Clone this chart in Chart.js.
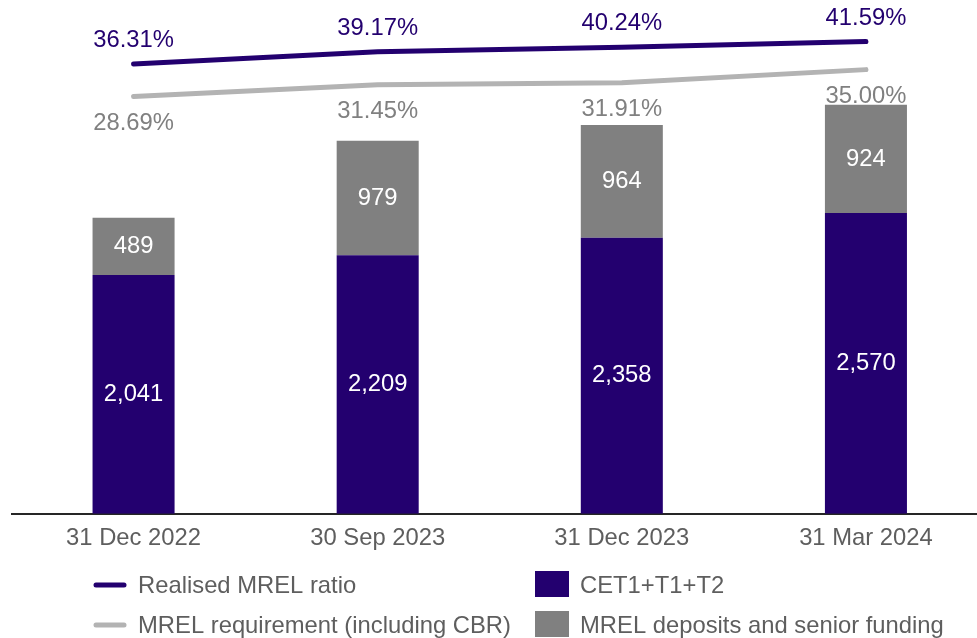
<!DOCTYPE html>
<html>
<head>
<meta charset="utf-8">
<script src="https://cdn.jsdelivr.net/npm/chart.js@4/dist/chart.umd.min.js"></script>
<style>
  html, body { margin: 0; padding: 0; background: #fff; overflow: hidden; }
  #wrap { width: 977px; height: 638px; overflow: hidden; }
</style>
</head>
<body>
<div id="wrap"><canvas id="mrelChart" width="988" height="638"></canvas></div>
<script>
const periods = ['31 Dec 2022', '30 Sep 2023', '31 Dec 2023', '31 Mar 2024'];
const cet1T1T2 = [2041, 2209, 2358, 2570];
const mrelDeposits = [489, 979, 964, 924];
const realisedRatio = [36.31, 39.17, 40.24, 41.59];
const requirementRatio = [28.69, 31.45, 31.91, 35.00];

const PURPLE = '#23006f';
const GREY_BAR = '#808080';
const GREY_LINE = '#b3b3b3';
const TEXT_GREY = '#5e5e5e';
const FONT = 'Liberation Sans, Arial, sans-serif';
const FONT_SIZE = 23.8;

// value labels inside bars and next to line points
const valueLabels = {
    id: 'valueLabels',
    afterDatasetsDraw(chart) {
        const ctx = chart.ctx;
        ctx.save();
        ctx.font = `${FONT_SIZE}px ${FONT}`;
        ctx.textAlign = 'center';
        ctx.textBaseline = 'middle';
        chart.data.datasets.forEach((ds, i) => {
            const meta = chart.getDatasetMeta(i);
            meta.data.forEach((el, j) => {
                const v = ds.data[j];
                if (ds.type === 'bar') {
                    ctx.fillStyle = '#ffffff';
                    ctx.fillText(v.toLocaleString('en-US'), el.x, (el.y + el.base) / 2);
                } else {
                    ctx.fillStyle = ds.labelColor;
                    ctx.fillText(v.toFixed(2) + '%', el.x, el.y + ds.labelOffset);
                }
            });
        });
        ctx.restore();
    }
};

// two column legend drawn on the canvas
const gridLegend = {
    id: 'gridLegend',
    afterDraw(chart) {
        const ctx = chart.ctx;
        const cols = [94, 535];
        const rows = [585, 625];
        ctx.save();
        ctx.font = `${FONT_SIZE}px ${FONT}`;
        ctx.textBaseline = 'middle';
        ctx.textAlign = 'left';
        chart.data.datasets.forEach((ds, i) => {
            const x = cols[i < 2 ? 0 : 1];
            const y = rows[i % 2];
            if (ds.type === 'line') {
                ctx.strokeStyle = ds.borderColor;
                ctx.lineWidth = 5;
                ctx.lineCap = 'round';
                ctx.beginPath();
                ctx.moveTo(x + 2, y);
                ctx.lineTo(x + 30, y);
                ctx.stroke();
                ctx.fillStyle = TEXT_GREY;
                ctx.fillText(ds.label, x + 44, y + 1.5);
            } else {
                ctx.fillStyle = ds.backgroundColor;
                ctx.fillRect(x, y - 14, 34, 26);
                ctx.fillStyle = TEXT_GREY;
                ctx.fillText(ds.label, x + 45, y + 1.5);
            }
        });
        ctx.restore();
    }
};

const ctx = document.getElementById('mrelChart').getContext('2d');
new Chart(ctx, {
    data: {
        labels: periods,
        datasets: [
            {
                type: 'line',
                label: 'Realised MREL ratio',
                data: realisedRatio,
                yAxisID: 'y1',
                borderColor: PURPLE,
                borderWidth: 5,
                borderCapStyle: 'round',
                pointRadius: 0,
                tension: 0,
                labelColor: PURPLE,
                labelOffset: -23.5
            },
            {
                type: 'line',
                label: 'MREL requirement (including CBR)',
                data: requirementRatio,
                yAxisID: 'y1',
                borderColor: GREY_LINE,
                borderWidth: 5,
                borderCapStyle: 'round',
                pointRadius: 0,
                tension: 0,
                labelColor: GREY_BAR,
                labelOffset: 26.5
            },
            {
                type: 'bar',
                label: 'CET1+T1+T2',
                data: cet1T1T2,
                yAxisID: 'y',
                stack: 'mrel',
                backgroundColor: PURPLE,
                categoryPercentage: 1,
                barPercentage: 0.336
            },
            {
                type: 'bar',
                label: 'MREL deposits and senior funding',
                data: mrelDeposits,
                yAxisID: 'y',
                stack: 'mrel',
                backgroundColor: GREY_BAR,
                categoryPercentage: 1,
                barPercentage: 0.336
            }
        ]
    },
    options: {
        responsive: false,
        animation: false,
        devicePixelRatio: 1,
        layout: {
            padding: { left: 11.5, right: 0, top: 0, bottom: 75.6 }
        },
        plugins: {
            legend: { display: false },
            tooltip: { enabled: false }
        },
        scales: {
            x: {
                stacked: true,
                grid: { display: false, drawTicks: false },
                border: { display: true, color: '#262626', width: 2 },
                ticks: {
                    padding: 10,
                    color: TEXT_GREY,
                    font: { family: FONT, size: FONT_SIZE }
                }
            },
            y: {
                display: false,
                stacked: true,
                min: 0,
                max: 4390
            },
            y1: {
                display: false,
                min: -69.0,
                max: 51.3
            }
        }
    },
    plugins: [valueLabels, gridLegend]
});
</script>
</body>
</html>
